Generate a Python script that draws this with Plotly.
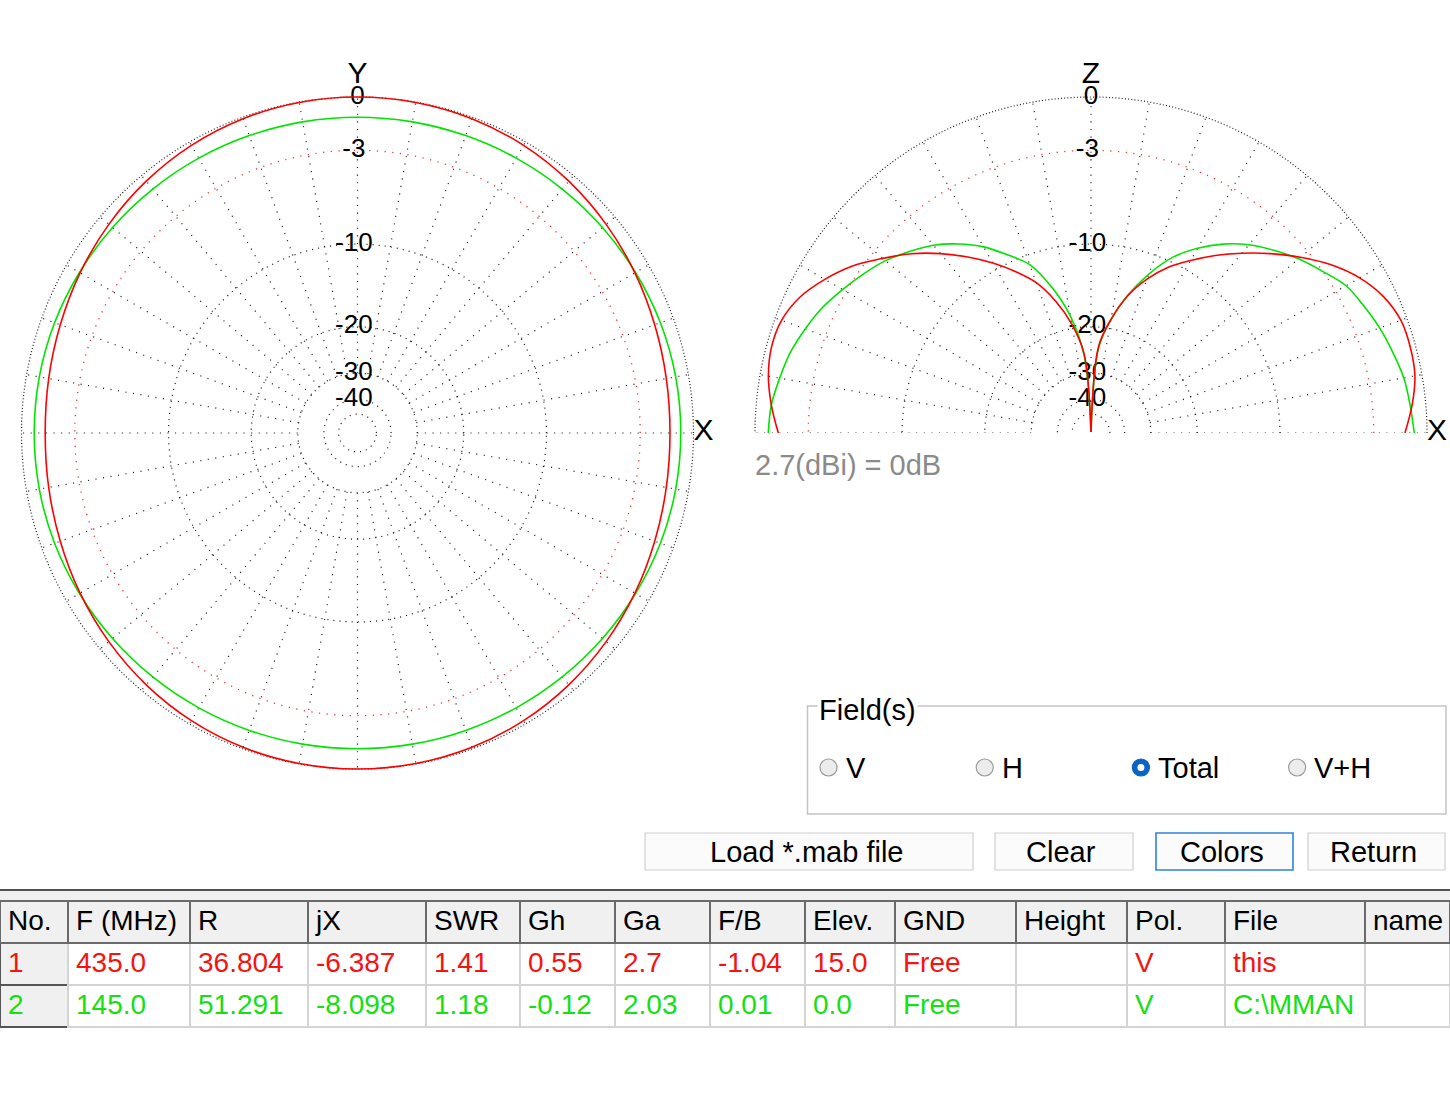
import numpy as np
import plotly.graph_objects as go

W, H = 1450, 1114

# ---------------- data ----------------
AZ_DEG = list(range(0, 360, 10))
AZ_RED_DB = [-1.26, -1.20, -1.05, -0.83, -0.60, -0.38, -0.20, -0.08, -0.02, 0.00,
             -0.02, -0.08, -0.20, -0.38, -0.60, -0.83, -1.05, -1.20, -1.27,
             -1.20, -1.05, -0.83, -0.60, -0.38, -0.20, -0.08, -0.02, 0.00,
             -0.02, -0.08, -0.20, -0.38, -0.60, -0.83, -1.05, -1.20]
AZ_GREEN_DB = [-0.67, -0.68, -0.72, -0.79, -0.86, -0.93, -0.99, -1.04, -1.07, -1.08,
               -1.07, -1.04, -0.99, -0.93, -0.86, -0.79, -0.72, -0.68, -0.67,
               -0.68, -0.72, -0.79, -0.86, -0.93, -0.99, -1.04, -1.07, -1.08,
               -1.07, -1.04, -0.99, -0.93, -0.86, -0.79, -0.72, -0.68]

EL_DEG = list(range(0, 181, 5))
EL_RED_DB = [-1.18, -0.72, -0.37, -0.28, -0.33, -0.70, -1.39, -2.37, -3.58, -4.88,
             -6.23, -7.62, -9.08, -10.57, -12.49, -14.96, -18.58, -23.5, -99.0,
             -25.0, -19.3, -15.66, -12.89, -11.04, -9.34, -7.77, -6.27, -4.89,
             -3.69, -2.49, -1.55, -0.78, -0.35, -0.27, -0.44, -0.80, -1.25]
EL_GREEN_DB = [-0.67, -0.83, -0.98, -1.27, -1.56, -1.92, -2.29, -3.03, -3.74, -4.56,
               -5.44, -6.54, -7.89, -9.54, -11.92, -14.87, -18.6, -24.0, -99.0,
               -25.5, -18.07, -13.95, -10.92, -9.34, -7.76, -6.53, -5.48, -4.68,
               -3.92, -3.32, -2.74, -2.17, -1.73, -1.33, -1.06, -0.80, -0.70]

RING_DB = [0, -3, -10, -20, -30, -40, -50]
LABEL_DB = [0, -3, -10, -20, -30, -40]
LABEL_TEXT = ['0', '-3', '-10', '-20', '-30', '-40']
SPOKE_DEG = list(range(0, 360, 10))
REF_TEXT = '2.7(dBi) = 0dB'

FIELD_OPTIONS = ['V', 'H', 'Total', 'V+H']
FIELD_SELECTED = 'Total'
BUTTONS = ['Load *.mab file', 'Clear', 'Colors', 'Return']

TABLE_HEADER = ['No.', 'F\u00a0(MHz)', 'R', 'jX', 'SWR', 'Gh', 'Ga', 'F/B', 'Elev.',
                'GND', 'Height', 'Pol.', 'File', 'name']
ROW_1 = ['1', '435.0', '36.804', '-6.387', '1.41', '0.55', '2.7', '-1.04', '15.0',
         'Free', '', 'V', 'this', '']
ROW_2 = ['2', '145.0', '51.291', '-8.098', '1.18', '-0.12', '2.03', '0.01', '0.0',
         'Free', '', 'V', 'C:\\MMAN', '']

# ---------------- styles ----------------
RED = '#ff0000'
GREEN = '#00e400'
TXT_RED = '#f41414'
TXT_GREEN = '#14e014'
GRID = '#1e1e1e'
FONT = 'Liberation Sans, Arial, sans-serif'
COL_WIDTHS = [68, 122, 118, 118, 94, 95, 95, 95, 90, 121, 111, 98, 140, 85]

R0 = 336.0          # pixel radius of the 0 dB ring
R_MAX = 1.06        # radial head-room so the axis letters are inside the range
AZ_C = (357.5, 433.0)
EL_C = (1091.0, 433.0)


def to_r(db):
    """MMANA radial scale: r proportional to 10^(dB/40)."""
    return [10 ** (d / 40.0) for d in db] if isinstance(db, (list, tuple)) else 10 ** (db / 40.0)


def px(x):
    return min(max(x / W, 0.0), 1.0)


def py(y):
    return min(max(1 - y / H, 0.0), 1.0)


fig = go.Figure()


def add_polar(sub, full):
    span = 360 if full else 180
    th = list(np.arange(0, span + 0.5, 1.0))
    for d in RING_DB:
        if d == 0:
            dash, col, wdt = '1px,2.2px', GRID, 1.2
        elif d == -3:
            dash, col, wdt = '1.2px,6.5px', '#ff2a2a', 1.3
        else:
            dash, col, wdt = '1.1px,5px', GRID, 1.2
        fig.add_trace(go.Scatterpolar(theta=th, r=[to_r(d)] * len(th), mode='lines',
                                      line=dict(color=col, width=wdt, dash=dash),
                                      subplot=sub, showlegend=False, hoverinfo='skip'))
    st, sr = [], []
    for a in SPOKE_DEG:
        if a > span:
            continue
        st += [a, a, None]
        sr += [to_r(-30), 1.0, None]
    fig.add_trace(go.Scatterpolar(theta=st, r=sr, mode='lines',
                                  line=dict(color=GRID, width=1.2, dash='1.1px,6.5px'),
                                  subplot=sub, showlegend=False, hoverinfo='skip'))
    fig.add_trace(go.Scatterpolar(theta=[90] * len(LABEL_DB), r=to_r(LABEL_DB),
                                  mode='text',
                                  text=[t + ('\u00a0' if t.startswith('-') else '') for t in LABEL_TEXT],
                                  textposition='middle center',
                                  textfont=dict(family=FONT, size=26, color='black'),
                                  cliponaxis=False, subplot=sub, showlegend=False,
                                  hoverinfo='skip'))
    fig.add_trace(go.Scatterpolar(theta=[90], r=[1.02], mode='text',
                                  text=['Y' if full else 'Z'], textposition='top center',
                                  textfont=dict(family=FONT, size=30, color='black'),
                                  cliponaxis=False, subplot=sub, showlegend=False,
                                  hoverinfo='skip'))
    fig.add_trace(go.Scatterpolar(theta=[0], r=[1.0], mode='text',
                                  text=['X'], textposition='middle right',
                                  textfont=dict(family=FONT, size=30, color='black'),
                                  cliponaxis=False, subplot=sub, showlegend=False,
                                  hoverinfo='skip'))


add_polar('polar', True)
add_polar('polar2', False)

# azimuth patterns (closed)
fig.add_trace(go.Scatterpolar(theta=AZ_DEG + [AZ_DEG[0] + 360], r=to_r(AZ_GREEN_DB + [AZ_GREEN_DB[0]]),
                              mode='lines', line=dict(color=GREEN, width=1.6, shape='spline'),
                              subplot='polar', showlegend=False))
fig.add_trace(go.Scatterpolar(theta=AZ_DEG + [AZ_DEG[0] + 360], r=to_r(AZ_RED_DB + [AZ_RED_DB[0]]),
                              mode='lines', line=dict(color=RED, width=1.6, shape='spline'),
                              subplot='polar', showlegend=False))
# elevation patterns: each lobe smoothed separately so the zenith null stays sharp
mid = EL_DEG.index(90)
for series, col in ((EL_GREEN_DB, GREEN), (EL_RED_DB, RED)):
    for sl in (slice(0, mid + 1), slice(mid, None)):
        fig.add_trace(go.Scatterpolar(theta=EL_DEG[sl], r=to_r(series[sl]), mode='lines',
                                      line=dict(color=col, width=1.6, shape='spline'),
                                      subplot='polar2', showlegend=False))

# ---------------- table ----------------
cols = [[a, b] for a, b in zip(ROW_1, ROW_2)]
fig.add_trace(go.Table(
    domain=dict(x=[0, 1], y=[py(1080), py(901)]),
    columnwidth=COL_WIDTHS,
    header=dict(values=TABLE_HEADER, height=42, align='left',
                fill=dict(color='#f0f0f0'),
                line=dict(color='#6a6a6a', width=1.5),
                font=dict(family=FONT, size=28, color='black')),
    cells=dict(values=cols, height=42, align='left',
               fill=dict(color=[['#f0f0f0', '#f0f0f0']] + [['white', 'white']] * 13),
               line=dict(color=['#555555'] + ['#d4d4d4'] * 13, width=1.2),
               font=dict(family=FONT, size=28, color=[[TXT_RED, TXT_GREEN]] * 14)),
))

shapes = []
annotations = []

shapes.append(dict(type='rect', xref='paper', yref='paper', x0=0, x1=1, y0=py(901), y1=py(891),
                   fillcolor='#f0f0f0', line=dict(width=0), layer='below'))
shapes.append(dict(type='line', xref='paper', yref='paper', x0=0, x1=1, y0=py(890), y1=py(890),
                   line=dict(color='#505050', width=2)))

shapes.append(dict(type='rect', xref='paper', yref='paper', x0=px(807.5), x1=px(1446), y0=py(814),
                   y1=py(706), line=dict(color='#c4c4c4', width=1.5), fillcolor='rgba(0,0,0,0)'))
annotations.append(dict(text='Field(s)', xref='paper', yref='paper', x=px(817), y=py(710),
                        xanchor='left', yanchor='middle', showarrow=False, bgcolor='white',
                        font=dict(family=FONT, size=29, color='black')))
for i, opt in enumerate(FIELD_OPTIONS):
    cx, cy, rr = 828.5 + i * 156.2, 767.5, 8.5
    sel = opt == FIELD_SELECTED
    shapes.append(dict(type='circle', xref='paper', yref='paper', x0=px(cx - rr), x1=px(cx + rr),
                       y0=py(cy + rr), y1=py(cy - rr),
                       fillcolor='#0a64c4' if sel else '#ececec',
                       line=dict(color='#0a64c4' if sel else '#9a9a9a', width=1.2)))
    if sel:
        shapes.append(dict(type='circle', xref='paper', yref='paper', x0=px(cx - 3.5),
                           x1=px(cx + 3.5), y0=py(cy + 3.5), y1=py(cy - 3.5),
                           fillcolor='white', line=dict(width=0)))
    annotations.append(dict(text=opt, xref='paper', yref='paper', x=px(cx + 15), y=py(cy),
                            xanchor='left', yanchor='middle', showarrow=False,
                            font=dict(family=FONT, size=29, color='black')))

BTN_X = [(645, 973), (995, 1133), (1156, 1293), (1308, 1445)]
for name, (x0, x1) in zip(BUTTONS, BTN_X):
    blue = name == 'Colors'
    shapes.append(dict(type='rect', xref='paper', yref='paper', x0=px(x0), x1=px(x1), y0=py(870),
                       y1=py(833), fillcolor='#fbfbfb',
                       line=dict(color='#2f84d6' if blue else '#cfcfcf', width=1.6 if blue else 1.2)))
    annotations.append(dict(text=name, xref='paper', yref='paper', x=px((x0 + x1) / 2 - 3), y=py(852),
                            xanchor='center', yanchor='middle', showarrow=False,
                            font=dict(family=FONT, size=29, color='black')))

annotations.append(dict(text=REF_TEXT, xref='paper', yref='paper', x=px(753), y=py(465),
                        xanchor='left', yanchor='middle', showarrow=False,
                        font=dict(family=FONT, size=29, color='#8a8a8a')))

polar_common = dict(
    bgcolor='rgba(0,0,0,0)',
    radialaxis=dict(visible=False, range=[0, R_MAX]),
    angularaxis=dict(visible=False, rotation=0, direction='counterclockwise'),
)
RP = R0 * R_MAX
fig.update_layout(
    width=W, height=H, margin=dict(l=0, r=0, t=0, b=0),
    paper_bgcolor='white', plot_bgcolor='white',
    showlegend=False,
    polar=dict(domain=dict(x=[px(AZ_C[0] - RP), px(AZ_C[0] + RP)],
                           y=[py(AZ_C[1] + RP), py(AZ_C[1] - RP)]), **polar_common),
    polar2=dict(domain=dict(x=[px(EL_C[0] - RP), px(EL_C[0] + RP)],
                            y=[py(EL_C[1]), py(EL_C[1] - RP)]), sector=[0, 180],
                **polar_common),
    shapes=shapes, annotations=annotations,
)

fig.write_html('out.html', config={'displayModeBar': False},
               post_script="document.body.style.margin='0';document.body.style.overflow='hidden';")
